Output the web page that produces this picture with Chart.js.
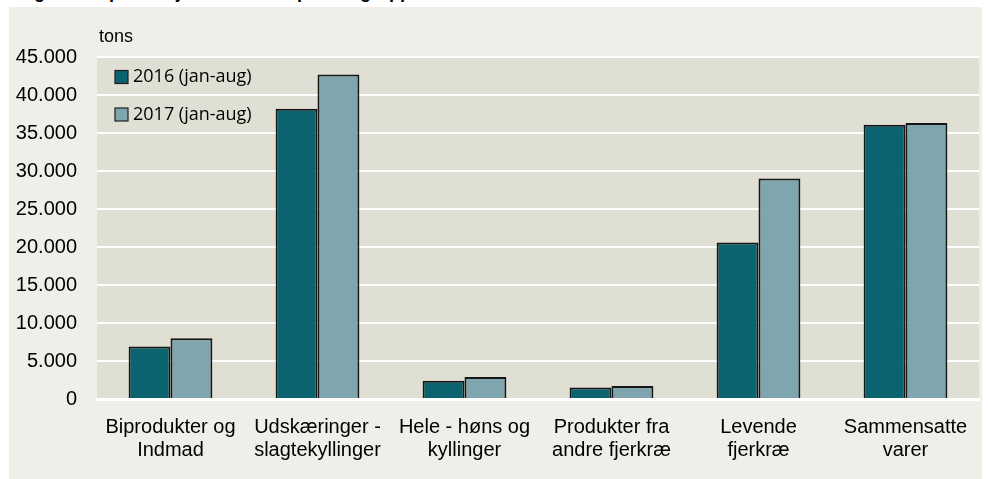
<!DOCTYPE html>
<html>
<head>
<meta charset="utf-8">
<script src="https://cdn.jsdelivr.net/npm/chart.js@4"></script>
<style>
  html, body { margin: 0; padding: 0; background: #ffffff; overflow: hidden; }
  #wrap { position: relative; width: 988px; height: 479px; }
  #title {
    position: absolute; left: 18px; top: -18px;
    font: bold 18px "Liberation Sans", Arial, sans-serif; color: #000;
    white-space: nowrap;
  }
  canvas { position: absolute; left: 0; top: 0; }
</style>
</head>
<body>
<div id="wrap">
  <div id="title">Figur 4. Import af fjerkræ fordelt på varegrupper</div>
  <canvas id="chart" width="988" height="479"></canvas>
</div>
<script>
const categories = [
  ['Biprodukter og', 'Indmad'],
  ['Udskæringer -', 'slagtekyllinger'],
  ['Hele - høns og', 'kyllinger'],
  ['Produkter fra', 'andre fjerkræ'],
  ['Levende', 'fjerkræ'],
  ['Sammensatte', 'varer']
];
const seriesNames = ['2016 (jan-aug)', '2017 (jan-aug)'];
const values2016 = [6900, 38200, 2400, 1500, 20600, 36100];
const values2017 = [8000, 42700, 2900, 1700, 29000, 36300];
const yTicks = [0, 5000, 10000, 15000, 20000, 25000, 30000, 35000, 40000, 45000];
const unitLabel = 'tons';

function fmt(v) {
  return String(v).replace(/\B(?=(\d{3})+(?!\d))/g, '.');
}

// panel + plot background, and the "tons" label
const backdrop = {
  id: 'backdrop',
  beforeDraw(chart) {
    const ctx = chart.ctx;
    const a = chart.chartArea;
    ctx.save();
    ctx.fillStyle = '#efeee8';
    ctx.fillRect(9, 7, 973, 472);
    ctx.fillStyle = '#e0dfd4';
    ctx.fillRect(a.left, a.top, a.right - a.left, a.bottom - a.top);
    ctx.fillStyle = '#000';
    ctx.font = '18px "Liberation Sans", Arial, sans-serif';
    ctx.textBaseline = 'alphabetic';
    ctx.fillText(unitLabel, a.left + 2, a.top - 15);
    ctx.restore();
  }
};

// legend stacked inside the plot, top left
const innerLegend = {
  id: 'innerLegend',
  afterDatasetsDraw(chart) {
    const ctx = chart.ctx;
    const a = chart.chartArea;
    ctx.save();
    ctx.font = '18px "Open Sans", sans-serif';
    ctx.textBaseline = 'middle';
    chart.data.datasets.forEach((ds, i) => {
      const x = a.left + 18;
      const y = a.top + 20 + i * 37.5;
      ctx.fillStyle = ds.backgroundColor;
      ctx.fillRect(x, y - 6.5, 13, 13);
      ctx.strokeStyle = '#1e1e1e';
      ctx.lineWidth = 1.2;
      ctx.strokeRect(x, y - 6.5, 13, 13);
      ctx.fillStyle = '#000';
      ctx.fillText(ds.label, x + 18, y);
    });
    ctx.restore();
  }
};

new Chart(document.getElementById('chart'), {
  type: 'bar',
  data: {
    labels: categories,
    datasets: [
      {
        label: seriesNames[0],
        data: values2016,
        backgroundColor: '#0b6370',
        borderColor: '#161616',
        borderWidth: 2
      },
      {
        label: seriesNames[1],
        data: values2017,
        backgroundColor: '#7fa5ae',
        borderColor: '#161616',
        borderWidth: 2
      }
    ]
  },
  options: {
    responsive: false,
    animation: false,
    layout: { padding: { top: 57, right: 9, left: 0, bottom: 0 } },
    datasets: {
      bar: { barPercentage: 1, categoryPercentage: 0.57 }
    },
    plugins: {
      legend: { display: false },
      tooltip: { enabled: false }
    },
    scales: {
      x: {
        grid: { display: false },
        border: { display: true, color: '#ffffff', width: 3 },
        ticks: {
          color: '#000',
          font: { family: '"Liberation Sans", Arial, sans-serif', size: 20, lineHeight: 1.15 },
          padding: 9,
          maxRotation: 0,
          autoSkip: false
        },
        afterFit(scale) { scale.height = 80; }
      },
      y: {
        min: 0,
        max: 45000,
        afterBuildTicks(scale) { scale.ticks = yTicks.map(v => ({ value: v })); },
        grid: { color: '#ffffff', lineWidth: 2, drawTicks: false },
        border: { display: false },
        ticks: {
          color: '#000',
          font: { family: '"Liberation Sans", Arial, sans-serif', size: 20 },
          padding: 20,
          callback: v => fmt(v)
        },
        afterFit(scale) { scale.width = 97; }
      }
    }
  },
  plugins: [backdrop, innerLegend]
});
</script>
</body>
</html>
